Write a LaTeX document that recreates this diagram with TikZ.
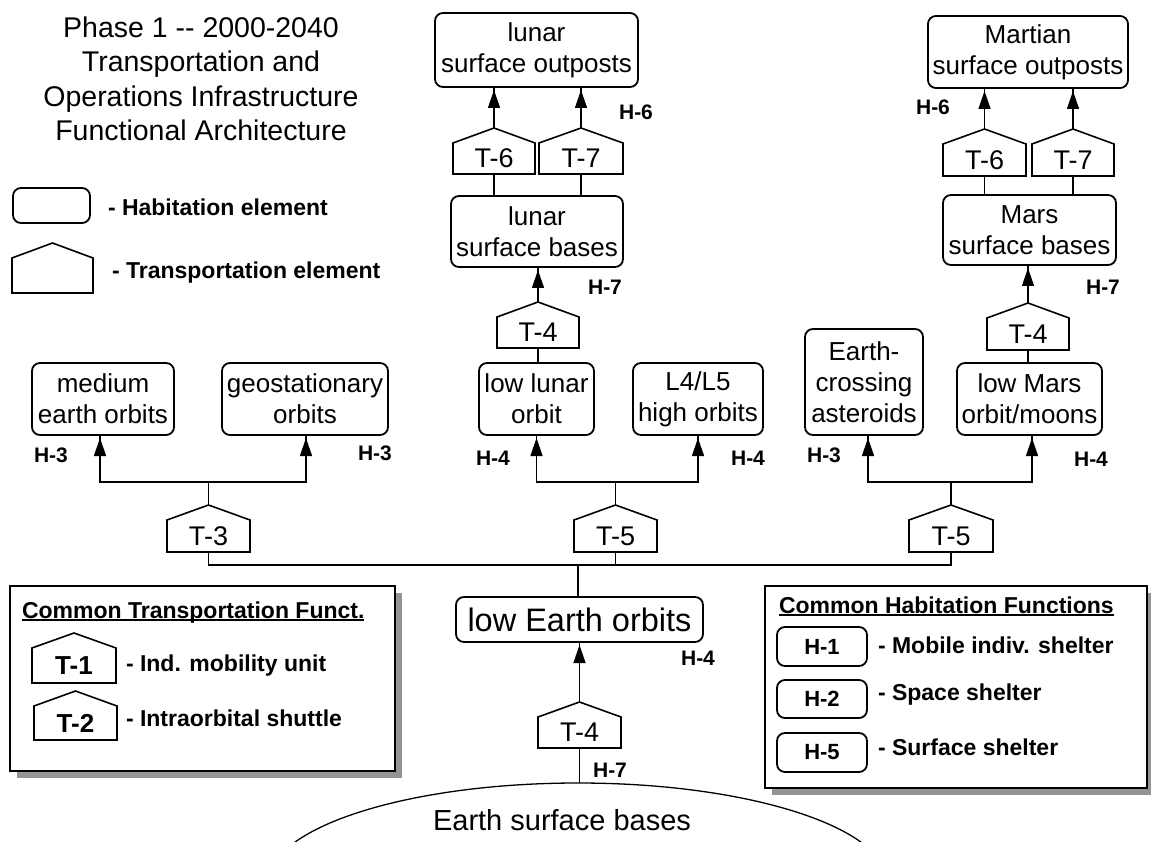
\documentclass[tikz,border=0pt]{standalone}
\usepackage{fontspec}
\setmainfont{Liberation Sans}
\usetikzlibrary{arrows.meta,shapes.geometric,shadows}
\begin{document}
\begin{tikzpicture}[x=1pt,y=-1pt,
  every node/.style={inner sep=0pt, outer sep=0pt},
  hab/.style={draw, line width=1.8pt, rounded corners=8pt, align=center,
    font=\fontsize{26}{31}\selectfont},
  tra/.style={minimum width=83pt, minimum height=32pt,
    font=\fontsize{27}{32}\selectfont,
    append after command={\pgfextra{\draw[line width=1.6pt, line join=miter]
      (\tikzlastnode.south west) -- (\tikzlastnode.north west) --
      ([yshift=15pt]\tikzlastnode.north) -- (\tikzlastnode.north east) --
      (\tikzlastnode.south east) -- cycle;}}},
  hlab/.style={font=\bfseries\fontsize{21}{25}\selectfont},
  leg/.style={font=\bfseries\fontsize{23}{27}\selectfont, anchor=west},
  conn/.style={line width=1.4pt},
  arr/.style={line width=1.4pt, -{Triangle[width=12pt,length=18pt]}, shorten >=3pt},
  legbox/.style={draw, fill=white, line width=1.8pt,
    drop shadow={shadow xshift=7pt, shadow yshift=-7pt, fill=black!42, opacity=1}}
]
\useasboundingbox (0,0) rectangle (1151,842);

% title
\node[align=center, font=\fontsize{28.5}{34.5}\selectfont] (title) at (201,79)
  {Phase 1 -\kern0pt- 2000-2040\\Transportation and\\Operations Infrastructure\\Functional Architecture};

% legend top
\node[draw, line width=1.8pt, rounded corners=8pt, minimum width=77pt, minimum height=35pt] (lhab) at (51.5,205.5) {};
\node[leg] (lhabt) at (108,207) {- Habitation element};
\node[tra, minimum width=81pt, minimum height=35pt] (ltra) at (52.5,275.5) {};
\node[leg] (ltrat) at (112,273) {- Transportation element};

% habitation elements
\node[hab, minimum width=203pt, minimum height=74pt] (lso) at (536.5,50) {lunar\\surface outposts};
\node[hab, minimum width=172pt, minimum height=71pt] (lsb) at (537,231.5) {lunar\\surface bases};
\node[hab, minimum width=115pt, minimum height=72pt] (llo) at (536.5,399) {low lunar\\orbit};
\node[hab, minimum width=130pt, minimum height=72pt] (l45) at (698,399) {L4/L5\\high orbits};
\node[hab, minimum width=142pt, minimum height=72pt] (meo) at (103,399) {medium\\earth orbits};
\node[hab, minimum width=166pt, minimum height=72pt] (geo) at (305,399) {geostationary\\orbits};
\node[hab, minimum width=118pt, minimum height=106pt] (eca) at (864,382) {Earth-\\crossing\\asteroids};
\node[hab, minimum width=145pt, minimum height=72pt] (lmo) at (1029.5,399) {low Mars\\orbit/moons};
\node[hab, minimum width=200pt, minimum height=72pt] (mso) at (1028,52) {Martian\\surface outposts};
\node[hab, minimum width=173pt, minimum height=70pt] (msb) at (1029.5,230) {Mars\\surface bases};
\node[hab, minimum width=247pt, minimum height=45pt, font=\fontsize{32.5}{38}\selectfont] (leo) at (579.5,619.5) {low Earth orbits};

% transportation elements
\node[tra, minimum width=82pt, minimum height=31pt] (lt6) at (494,158.5) {T-6};
\node[tra, minimum width=84pt, minimum height=31pt] (lt7) at (581,158.5) {T-7};
\node[tra, minimum width=82pt, minimum height=31pt] (lt4) at (538,332.5) {T-4};
\node[tra] (mt6) at (984.5,160) {T-6};
\node[tra, minimum width=82pt] (mt7) at (1073,160) {T-7};
\node[tra, minimum width=82pt] (mt4) at (1028,334) {T-4};
\node[tra] (t3) at (208.5,536) {T-3};
\node[tra] (t5m) at (615.5,536) {T-5};
\node[tra, minimum width=84pt] (t5r) at (951,536) {T-5};
\node[tra, minimum width=83pt, minimum height=31pt] (t4e) at (579.5,732.5) {T-4};

% Earth surface
\begin{scope}
\clip (0,0) rectangle (1151,842);
\node[ellipse, draw, line width=1.3pt, minimum width=620pt, minimum height=200pt] (esb) at (578,883) {};
\end{scope}
\node[font=\fontsize{29}{34}\selectfont] (esbt) at (562,820) {Earth surface bases};

% lunar chain
\draw[conn] ([yshift=15pt]lt6.north) -- (lt6.north |- lso.south);
\draw[arr] ([yshift=15pt]lt6.north) -- (lt6.north |- lso.south);
\draw[conn] ([yshift=15pt]lt7.north) -- (lt7.north |- lso.south);
\draw[arr] ([yshift=15pt]lt7.north) -- (lt7.north |- lso.south);
\draw[conn] (lt6.south) -- (lt6.south |- lsb.north);
\draw[conn] (lt7.south) -- (lt7.south |- lsb.north);
\draw[conn] ([yshift=15pt]lt4.north) -- (lt4.north |- lsb.south);
\draw[arr] ([yshift=15pt]lt4.north) -- (lt4.north |- lsb.south);
\draw[conn] (lt4.south) -- (lt4.south |- llo.north);

% Mars chain
\draw[conn] ([yshift=15pt]mt6.north) -- (mt6.north |- mso.south);
\draw[arr] ([yshift=15pt]mt6.north) -- (mt6.north |- mso.south);
\draw[conn] ([yshift=15pt]mt7.north) -- (mt7.north |- mso.south);
\draw[arr] ([yshift=15pt]mt7.north) -- (mt7.north |- mso.south);
\draw[conn] (mt6.south) -- (mt6.south |- msb.north);
\draw[conn] (mt7.south) -- (mt7.south |- msb.north);
\draw[conn] ([yshift=15pt]mt4.north) -- (mt4.north |- msb.south);
\draw[arr] ([yshift=15pt]mt4.north) -- (mt4.north |- msb.south);
\draw[conn] (mt4.south) -- (mt4.south |- lmo.north);

% junctions
\coordinate (j3) at (208.5,482);
\coordinate (jm) at (615.5,482);
\coordinate (jr) at (951,482);
\draw[conn] ([yshift=15pt]t3.north) -- (j3);
\draw[conn] (j3) -| ([xshift=-3pt]meo.south);
\draw[arr] (j3) -| ([xshift=-3pt]meo.south);
\draw[conn] (j3) -| ([xshift=1pt]geo.south);
\draw[arr] (j3) -| ([xshift=1pt]geo.south);
\draw[conn] ([yshift=15pt]t5m.north) -- (jm);
\draw[conn] (jm) -| (llo.south);
\draw[arr] (jm) -| (llo.south);
\draw[conn] (jm) -| (l45.south);
\draw[arr] (jm) -| (l45.south);
\draw[conn] ([yshift=15pt]t5r.north) -- (jr);
\draw[conn] (jr) -| ([xshift=4pt]eca.south);
\draw[arr] (jr) -| ([xshift=4pt]eca.south);
\draw[conn] (jr) -| ([xshift=2.5pt]lmo.south);
\draw[arr] (jr) -| ([xshift=2.5pt]lmo.south);

% bus
\coordinate (busL) at (208.5,565);
\coordinate (busR) at (951,565);
\draw[conn] (t3.south) -- (busL) -- (busR) -- (t5r.south);
\draw[conn] (t5m.south) -- (t5m.south |- busL);
\draw[conn] ([xshift=-1.5pt]leo.north) -- ([xshift=-1.5pt]leo.north |- busL);
\draw[conn] ([yshift=15pt]t4e.north) -- (t4e.north |- leo.south);
\draw[arr] ([yshift=15pt]t4e.north) -- (t4e.north |- leo.south);
\draw[conn] (t4e.south) -- (t4e.south |- esb.north);

% H labels
\node[hlab] (h6l) at (636,112) {H-6};
\node[hlab] (h7l) at (605,287) {H-7};
\node[hlab] (h6m) at (933,107) {H-6};
\node[hlab] (h7m) at (1103,287) {H-7};
\node[hlab] (h3a) at (51,455) {H-3};
\node[hlab] (h3b) at (375,453) {H-3};
\node[hlab] (h4a) at (493,458) {H-4};
\node[hlab] (h4b) at (748,458) {H-4};
\node[hlab] (h3c) at (824,455) {H-3};
\node[hlab] (h4c) at (1091,459) {H-4};
\node[hlab] (h4e) at (698,658) {H-4};
\node[hlab] (h7e) at (610,770) {H-7};

% bottom-left legend box
\node[legbox, minimum width=385pt, minimum height=185pt] (ctf) at (202.5,678.5) {};
\node[leg, anchor=base west] (ctft) at (22,618) {Common Transportation Funct.};
\draw[line width=1.3pt] ([yshift=-2pt]ctft.base west) -- ([yshift=-2pt]ctft.base east);
\node[tra, minimum width=84pt, minimum height=35pt, font=\bfseries\fontsize{26}{30}\selectfont] (tl1) at (74,665.5) {T-1};
\node[leg] (tl1t) at (126,666) {- Ind. mobility unit};
\node[tra, minimum width=83pt, minimum height=34pt, font=\bfseries\fontsize{26}{30}\selectfont] (tl2) at (75.5,723) {T-2};
\node[leg] (tl2t) at (126,718) {- Intraorbital shuttle};

% bottom-right legend box
\node[legbox, minimum width=382pt, minimum height=202pt] (chf) at (956,687) {};
\node[leg, anchor=base west] (chft) at (779,613) {Common Habitation Functions};
\draw[line width=1.3pt] ([yshift=-2pt]chft.base west) -- ([yshift=-2pt]chft.base east);
\node[draw, line width=1.8pt, rounded corners=8pt, minimum width=90pt, minimum height=39pt, font=\bfseries\fontsize{22}{26}\selectfont] (hl1) at (822,646.5) {H-1};
\node[leg] (hl1t) at (878,645) {- Mobile indiv. shelter};
\node[draw, line width=1.8pt, rounded corners=8pt, minimum width=90pt, minimum height=38pt, font=\bfseries\fontsize{22}{26}\selectfont] (hl2) at (822,699) {H-2};
\node[leg] (hl2t) at (878,695) {- Space shelter};
\node[draw, line width=1.8pt, rounded corners=8pt, minimum width=90pt, minimum height=39pt, font=\bfseries\fontsize{22}{26}\selectfont] (hl5) at (822,752.5) {H-5};
\node[leg] (hl5t) at (878,747) {- Surface shelter};
\end{tikzpicture}
\end{document}
